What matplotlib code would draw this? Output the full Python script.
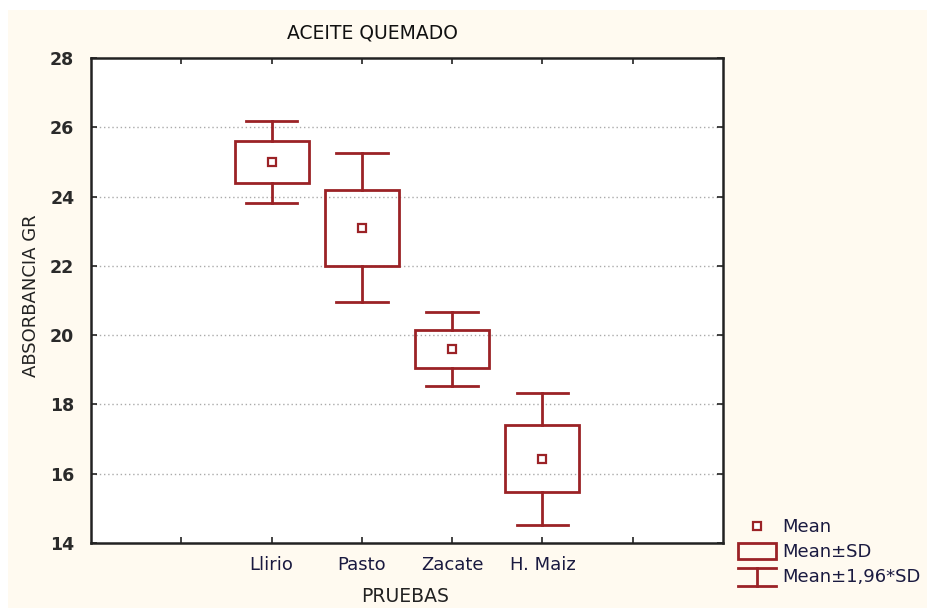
import matplotlib
matplotlib.use("Agg")
import matplotlib.pyplot as plt
from matplotlib.patches import Rectangle
from matplotlib.lines import Line2D
from matplotlib.legend_handler import HandlerBase

categories = ["Llirio", "Pasto", "Zacate", "H. Maiz"]
means = [25.0, 23.1, 19.6, 16.43]
sds = [0.6, 1.1, 0.55, 0.97]
positions = [2, 3, 4, 5]

red = "#9b2226"
plt.rcParams['font.family'] = ['DejaVu Sans']

fig = plt.figure(figsize=(9.27, 6.08), dpi=100)
fig.patch.set_facecolor("white")
fig.add_artist(Rectangle((8/927, 0), 1 - 8/927, 1 - 10/608, transform=fig.transFigure,
                         facecolor="#fffaf0", edgecolor="none", zorder=-10))
ax = fig.add_axes([91/927, 1 - 543/608, (723 - 91)/927, (543 - 58)/608])
ax.set_facecolor("white")

bw = 0.82
cw = 0.57
for x, m, s in zip(positions, means, sds):
    w = 1.96 * s
    ax.add_patch(Rectangle((x - bw/2, m - s), bw, 2*s, facecolor="none", edgecolor=red, lw=2, zorder=3))
    ax.plot([x, x], [m + s, m + w], color=red, lw=2, zorder=3)
    ax.plot([x, x], [m - s, m - w], color=red, lw=2, zorder=3)
    ax.plot([x - cw/2, x + cw/2], [m + w, m + w], color=red, lw=2, zorder=3)
    ax.plot([x - cw/2, x + cw/2], [m - w, m - w], color=red, lw=2, zorder=3)
    ax.plot([x], [m], marker="s", ms=6, mfc="white", mec=red, mew=1.6, zorder=4)

ax.set_xlim(0, 7)
ax.set_ylim(14, 28)
ax.set_yticks(range(14, 29, 2))
ax.set_xticks(range(1, 7))
ax.set_xticklabels(["", "Llirio", "Pasto", "Zacate", "H. Maiz", ""])
ax.tick_params(axis="both", direction="in", length=4, width=1.2, top=True, right=True,
               colors="#222222")
ax.tick_params(axis="x", pad=9, labelsize=13)
ax.tick_params(axis="y", pad=12, labelsize=12.5)
for lab in ax.get_yticklabels():
    lab.set_color("#2a2a2a")
    lab.set_fontweight("semibold")
for lab in ax.get_xticklabels():
    lab.set_color("#1a1a40")
for sp in ax.spines.values():
    sp.set_linewidth(1.8)
    sp.set_color("#222222")
for yv in range(16, 28, 2):
    ax.axhline(yv, color="#aaaaaa", lw=1, ls=(0, (1, 2)), zorder=1)

fig.text(372/927, 1 - 33/608, "ACEITE QUEMADO", ha="center", va="center", fontsize=13.5, color="#111111")
fig.text(405/927, 1 - 596/608, "PRUEBAS", ha="center", va="center", fontsize=13.5, color="#222222")
fig.text(31/927, 1 - 296/608, "ABSORBANCIA GR", ha="center", va="center", rotation=90, fontsize=13, color="#222222")


class HandlerBox(HandlerBase):
    def create_artists(self, legend, orig, xd, yd, w, h, fs, trans):
        r = Rectangle((xd, yd - 0.15*h), w, h*1.3, facecolor="none", edgecolor=red, lw=2, transform=trans)
        return [r]


class HandlerIbar(HandlerBase):
    def create_artists(self, legend, orig, xd, yd, w, h, fs, trans):
        x0, x1 = xd, xd + w
        xc = (x0 + x1)/2
        top = yd + h*1.15
        bot = yd - 0.25*h
        l1 = Line2D([x0, x1], [top, top], color=red, lw=2, transform=trans)
        l2 = Line2D([xc, xc], [top, bot], color=red, lw=2, transform=trans)
        l3 = Line2D([x0, x1], [bot, bot], color=red, lw=2, transform=trans)
        return [l1, l2, l3]


h_mean = Line2D([], [], ls="none", marker="s", ms=6, mfc="white", mec=red, mew=1.6)
h_box = Rectangle((0, 0), 1, 1)
h_bar = Line2D([], [], color=red)
leg = fig.legend([h_mean, h_box, h_bar], ["Mean", "Mean±SD", "Mean±1,96*SD"],
                 handler_map={h_box: HandlerBox(), h_bar: HandlerIbar()},
                 loc="upper left", bbox_to_anchor=(738/927, 1 - 518/608),
                 frameon=False, fontsize=13, handlelength=2.1, handletextpad=0.35,
                 labelspacing=0.4, borderaxespad=0, borderpad=0)
for t in leg.get_texts():
    t.set_color("#1a1a40")

fig.savefig("out.png", dpi=100, facecolor=fig.get_facecolor())
